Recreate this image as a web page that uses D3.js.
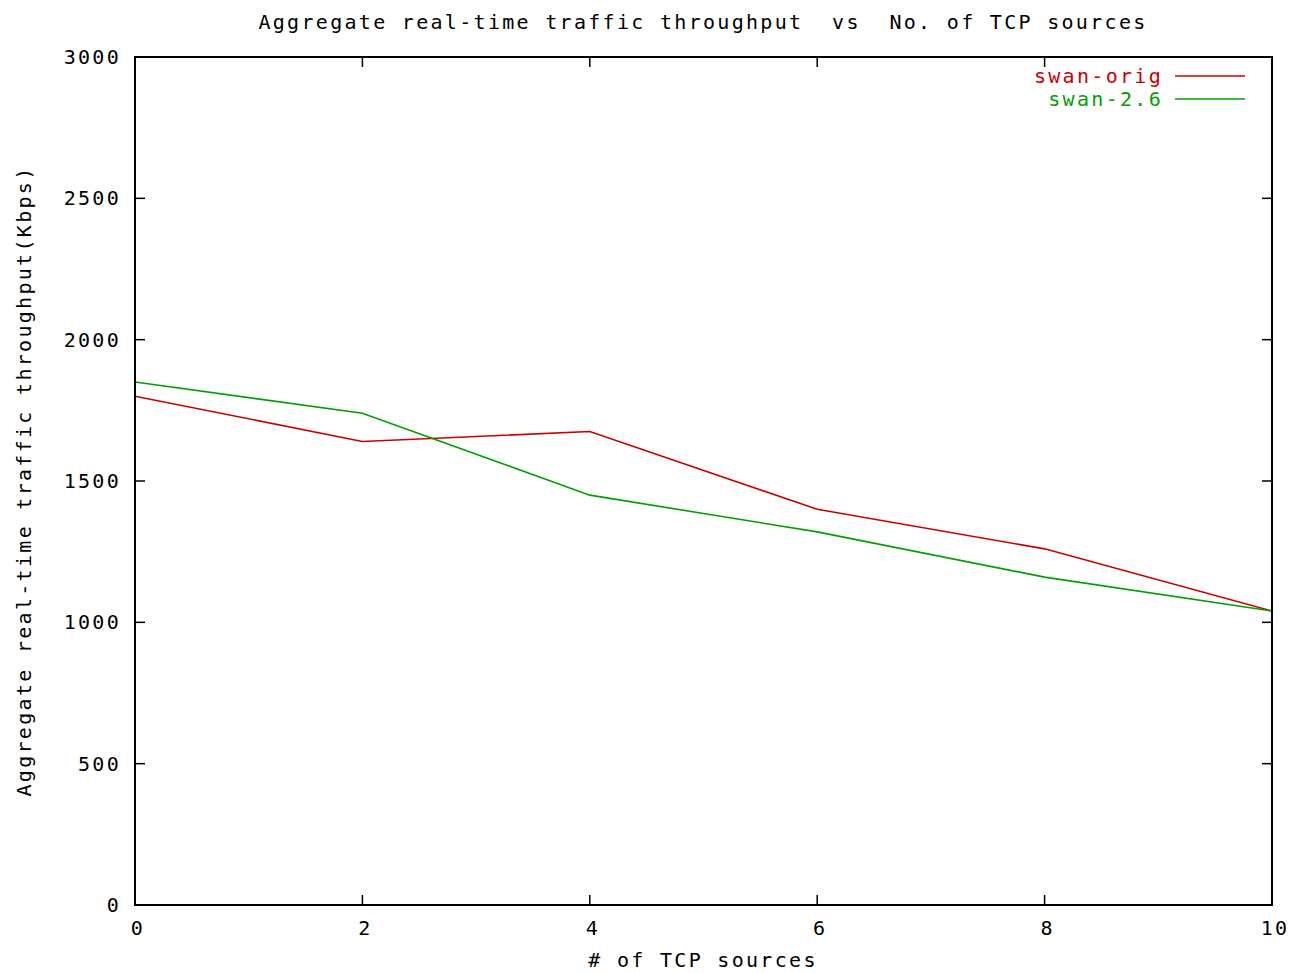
<!DOCTYPE html>
<html>
<head>
<meta charset="utf-8">
<script src="https://cdn.jsdelivr.net/npm/d3@7"></script>
<style>
  body { margin: 0; background: #fff; }
  svg text { font-family: "DejaVu Sans Mono", monospace; font-size: 20px; letter-spacing: 2.3px; fill: #000; }
</style>
</head>
<body>
<svg id="vis" width="1311" height="973"></svg>
<script>
// chart data
const sources = [0, 2, 4, 6, 8, 10];
const swanOrig = [1800, 1640, 1675, 1400, 1260, 1040];
const swan26 = [1850, 1740, 1450, 1320, 1160, 1040];
const xTicks = [0, 2, 4, 6, 8, 10];
const yTicks = [0, 500, 1000, 1500, 2000, 2500, 3000];

const series = [
    { name: "swan-orig", values: swanOrig, color: "#cc0000" },
    { name: "swan-2.6", values: swan26, color: "#00a000" }
];

const svg = d3.select('#vis');
const margin = { left: 135, right: 1272, top: 57, bottom: 905 };
const tickLen = 10;

const x = d3.scaleLinear().domain([0, 10]).range([margin.left, margin.right]);
const y = d3.scaleLinear().domain([0, 3000]).range([margin.bottom, margin.top]);

// ticks on all four sides, pointing inwards (gnuplot style)
const ticks = svg.append("g").attr("stroke", "#000").attr("stroke-width", 1.5);
xTicks.forEach(function (t) {
    ticks.append("line")
        .attr("x1", x(t)).attr("x2", x(t))
        .attr("y1", margin.bottom).attr("y2", margin.bottom - tickLen);
    ticks.append("line")
        .attr("x1", x(t)).attr("x2", x(t))
        .attr("y1", margin.top).attr("y2", margin.top + tickLen);
});
yTicks.forEach(function (t) {
    ticks.append("line")
        .attr("x1", margin.left).attr("x2", margin.left + tickLen)
        .attr("y1", y(t)).attr("y2", y(t));
    ticks.append("line")
        .attr("x1", margin.right).attr("x2", margin.right - tickLen)
        .attr("y1", y(t)).attr("y2", y(t));
});

// tick labels
svg.selectAll(".xlab")
    .data(xTicks)
    .enter().append("text")
    .attr("class", "xlab")
    .attr("x", function (d) { return x(d) + 3; })
    .attr("y", 935)
    .attr("text-anchor", "middle")
    .text(function (d) { return d; });

svg.selectAll(".ylab")
    .data(yTicks)
    .enter().append("text")
    .attr("class", "ylab")
    .attr("x", 121)
    .attr("y", function (d) { return y(d) + 7; })
    .attr("text-anchor", "end")
    .text(function (d) { return d; });

// lines
const line = d3.line()
    .x(function (d, i) { return x(sources[i]); })
    .y(function (d) { return y(d); });

series.forEach(function (s) {
    svg.append("path")
        .datum(s.values)
        .attr("fill", "none")
        .attr("stroke", s.color)
        .attr("stroke-width", 1.6)
        .attr("d", line);
});

// frame
svg.append("rect")
    .attr("x", margin.left).attr("y", margin.top)
    .attr("width", margin.right - margin.left)
    .attr("height", margin.bottom - margin.top)
    .attr("fill", "none")
    .attr("stroke", "#000")
    .attr("stroke-width", 2);

// legend
series.forEach(function (s, i) {
    const ly = 76 + i * 23;
    svg.append("text")
        .attr("x", 1163).attr("y", ly + 7)
        .attr("text-anchor", "end")
        .style("fill", s.color)
        .text(s.name);
    svg.append("line")
        .attr("x1", 1175).attr("x2", 1245)
        .attr("y1", ly).attr("y2", ly)
        .attr("stroke", s.color)
        .attr("stroke-width", 1.6);
});

// titles
svg.append("text")
    .attr("x", 703).attr("y", 29)
    .attr("text-anchor", "middle")
    .attr("xml:space", "preserve")
    .text("Aggregate real-time traffic throughput  vs  No. of TCP sources");

svg.append("text")
    .attr("x", 703).attr("y", 967)
    .attr("text-anchor", "middle")
    .text("# of TCP sources");

svg.append("text")
    .attr("transform", "translate(31," + ((margin.top + margin.bottom) / 2) + ") rotate(-90)")
    .attr("text-anchor", "middle")
    .text("Aggregate real-time traffic throughput(Kbps)");
</script>
</body>
</html>
